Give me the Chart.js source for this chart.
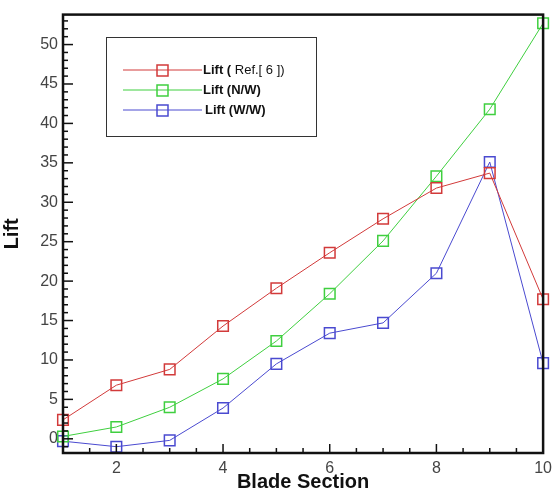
<!DOCTYPE html>
<html>
<head>
<meta charset="utf-8">
<script src="https://cdn.jsdelivr.net/npm/chart.js@4/dist/chart.umd.min.js"></script>
<style>
  body { margin: 0; background: #fff; }
  #wrap { width: 558px; height: 494px; }
</style>
</head>
<body>
<div id="wrap"><canvas id="grafico"></canvas></div>
<script>
// datos
const secciones = [1, 2, 3, 4, 5, 6, 7, 8, 9, 10];
const liftRef6 = [2.4, 6.8, 8.8, 14.3, 19.1, 23.6, 27.9, 31.8, 33.7, 17.7];
const liftNW = [0.3, 1.5, 4.0, 7.6, 12.4, 18.4, 25.1, 33.3, 41.8, 52.7];
const liftWW = [-0.3, -1.0, -0.2, 3.9, 9.5, 13.4, 14.7, 21.0, 35.1, 9.6];
const etiquetas = ['Lift ( Ref.[ 6 ])', 'Lift (N/W)', 'Lift (W/W)'];
const ticksX = [2, 4, 6, 8, 10];
const ticksY = [0, 5, 10, 15, 20, 25, 30, 35, 40, 45, 50];

const colores = ['#d23a3a', '#3fcf3f', '#4a4ad0'];

function serie(valores, i) {
    return {
        label: etiquetas[i],
        data: secciones.map((s, k) => ({ x: s, y: valores[k] })),
        borderColor: colores[i],
        borderWidth: 1,
        pointStyle: 'rect',
        pointRadius: 7.5,
        pointBorderWidth: 1.5,
        pointBackgroundColor: 'rgba(0,0,0,0)',
        pointBorderColor: colores[i],
        fill: false,
        clip: false,
        tension: 0
    };
}

// marco, ticks interiores y leyenda dentro del area
const marco = {
    id: 'marco',
    afterDatasetsDraw(chart) {
        const ctx = chart.ctx;
        const a = chart.chartArea;
        const sx = chart.scales.x, sy = chart.scales.y;
        ctx.save();
        ctx.strokeStyle = '#111';
        // ticks eje x (mayores y menores)
        ctx.lineWidth = 1.5;
        for (let v = 1; v <= 10.001; v += 0.5) {
            const px = sx.getPixelForValue(v);
            const largo = ticksX.includes(v) ? 9 : 5;
            ctx.beginPath();
            ctx.moveTo(px, a.bottom);
            ctx.lineTo(px, a.bottom - largo);
            ctx.stroke();
        }
        // ticks eje y
        for (let v = -1; v <= 53; v += 1) {
            const py = sy.getPixelForValue(v);
            const largo = ticksY.includes(v) ? 10 : 5;
            ctx.beginPath();
            ctx.moveTo(a.left, py);
            ctx.lineTo(a.left + largo, py);
            ctx.stroke();
        }
        // borde
        ctx.lineWidth = 2.5;
        ctx.strokeRect(a.left, a.top, a.right - a.left, a.bottom - a.top);

        // leyenda
        const lx = 106, ly = 37, lw = 210, lh = 99;
        ctx.lineWidth = 1;
        ctx.strokeStyle = '#333';
        ctx.fillStyle = '#fff';
        ctx.fillRect(lx, ly, lw, lh);
        ctx.strokeRect(lx + 0.5, ly + 0.5, lw, lh);
        chart.data.datasets.forEach((ds, i) => {
            const y = 70 + i * 20;
            ctx.strokeStyle = ds.borderColor;
            ctx.lineWidth = 1;
            ctx.beginPath();
            ctx.moveTo(123, y);
            ctx.lineTo(202, y);
            ctx.stroke();
            ctx.lineWidth = 1.5;
            ctx.strokeRect(157, y - 5, 11, 11);
            ctx.fillStyle = '#111';
            ctx.textBaseline = 'middle';
            if (i === 0) {
                ctx.font = 'bold 13px "Liberation Sans", Arial, sans-serif';
                ctx.fillText('Lift (', 203, y);
                const w = ctx.measureText('Lift ( ').width;
                ctx.font = '13px "Liberation Sans", Arial, sans-serif';
                ctx.fillText('Ref.[ 6 ])', 203 + w, y);
            } else {
                ctx.font = 'bold 13px "Liberation Sans", Arial, sans-serif';
                ctx.fillText(ds.label, 203 + (i === 2 ? 2 : 0), y);
            }
        });
        ctx.restore();
    }
};

let ctxGrafico = document.getElementById('grafico');
let grafico = new Chart(ctxGrafico, {
    type: 'line',
    data: {
        datasets: [serie(liftRef6, 0), serie(liftNW, 1), serie(liftWW, 2)]
    },
    options: {
        responsive: true,
        maintainAspectRatio: false,
        animation: false,
        layout: { padding: { top: 14, right: 10, left: 0, bottom: 0 } },
        plugins: {
            legend: { display: false },
            tooltip: { enabled: false }
        },
        scales: {
            x: {
                type: 'linear',
                min: 1,
                max: 10,
                afterBuildTicks: s => { s.ticks = ticksX.map(v => ({ value: v })); },
                afterFit: s => { s.height = 41; },
                grid: { display: false, drawTicks: false },
                border: { display: false },
                ticks: {
                    color: '#444',
                    padding: 6,
                    maxRotation: 0,
                    font: { family: '"Liberation Sans", Arial, sans-serif', size: 16 }
                },
                title: {
                    display: true,
                    text: 'Blade Section',
                    color: '#111',
                    padding: { top: 3, bottom: 0 },
                    font: { family: '"Liberation Sans", Arial, sans-serif', size: 20, weight: 'bold' }
                }
            },
            y: {
                type: 'linear',
                min: -1.8,
                max: 53.8,
                afterBuildTicks: s => { s.ticks = ticksY.map(v => ({ value: v })); },
                afterFit: s => { s.width = 63; },
                grid: { display: false, drawTicks: false },
                border: { display: false },
                ticks: {
                    color: '#444',
                    padding: 5,
                    font: { family: '"Liberation Sans", Arial, sans-serif', size: 16 }
                },
                title: {
                    display: true,
                    text: 'Lift',
                    color: '#111',
                    padding: { top: 0, bottom: 0 },
                    font: { family: '"Liberation Sans", Arial, sans-serif', size: 20, weight: 'bold' }
                }
            }
        }
    },
    plugins: [marco]
});
</script>
</body>
</html>
